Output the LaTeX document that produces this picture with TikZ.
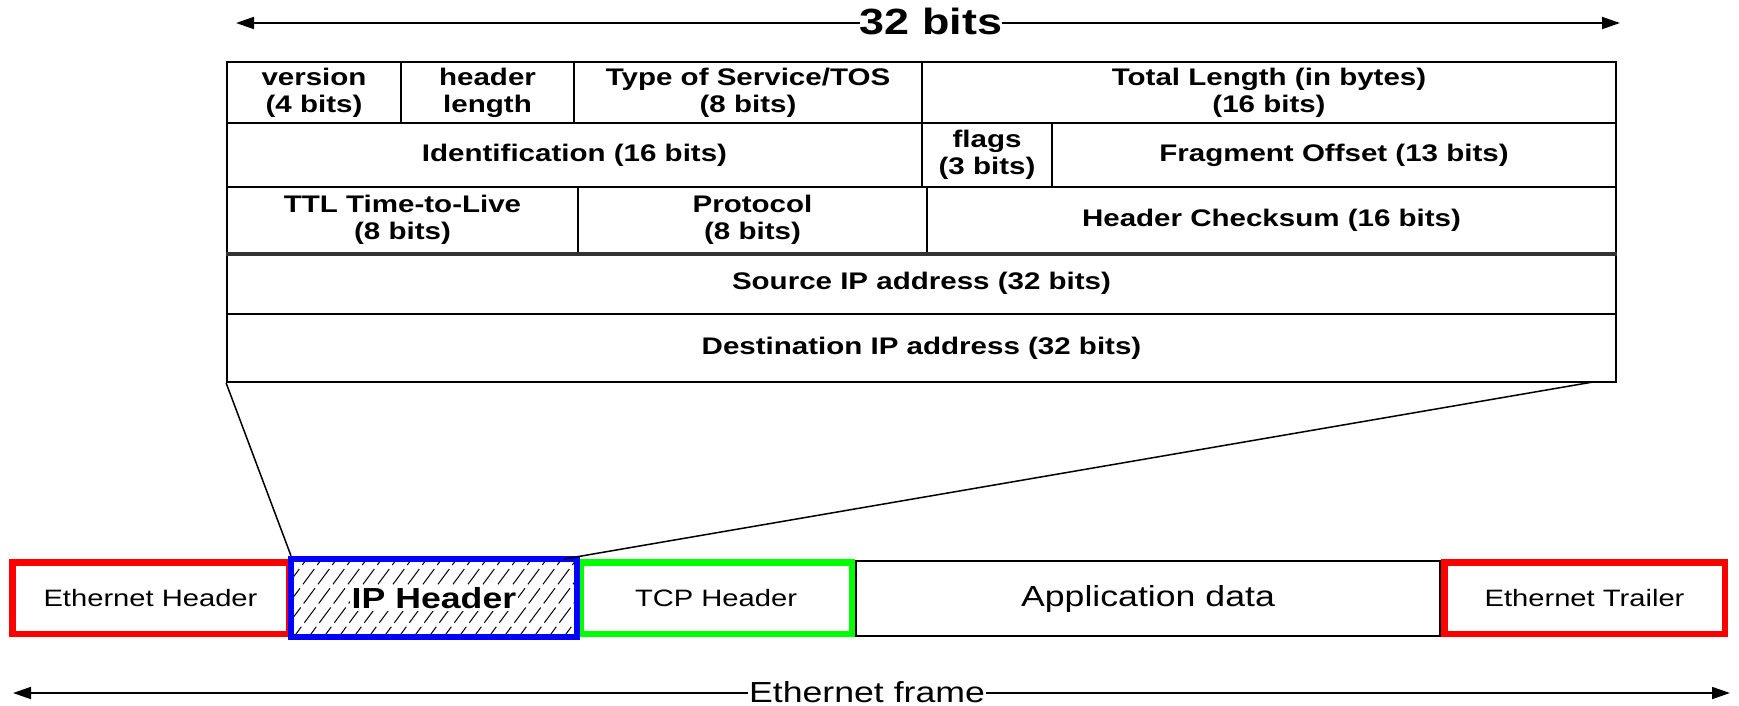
\documentclass[tikz,border=0pt]{standalone}
\usepackage{fontspec}
\setmainfont{Liberation Sans}[FakeStretch=1.23]
\usetikzlibrary{arrows.meta,calc}
\begin{document}
\begin{tikzpicture}[x=1pt,y=-1pt,
  cell/.style={draw=black, line width=1.8pt, inner sep=0pt, align=center,
    font=\bfseries\fontsize{24}{27}\selectfont},
  fbox/.style={line width=6.5pt, inner sep=0pt, minimum height=71.5pt,
    font=\fontsize{23.7}{26}\selectfont},
  link/.style={line width=1.5pt, draw=black},
  dim/.style={line width=1.8pt, draw=black, -{Triangle[length=18pt,width=12pt]}},
  hatch/.style={line width=1pt, draw=black, dash pattern=on 19pt off 5pt}
]
\useasboundingbox (0,0) rectangle (1739,706);

% ---- IP header table ----
\node[cell, minimum width=174pt, minimum height=61pt] (ver)  at (314,92.5)   {version\\(4 bits)};
\node[cell, minimum width=173pt, minimum height=61pt] (hlen) at (487.5,92.5) {header\\length};
\node[cell, minimum width=348pt, minimum height=61pt] (tos)  at (748,92.5)   {Type of Service/TOS\\(8 bits)};
\node[cell, minimum width=694pt, minimum height=61pt] (tlen) at (1269,92.5)  {Total Length (in bytes)\\(16 bits)};

\node[cell, minimum width=695pt, minimum height=64pt] (ident) at (574.5,155) {Identification (16 bits)};
\node[cell, minimum width=130pt, minimum height=64pt] (flags) at (987,155)   {flags\\(3 bits)};
\node[cell, minimum width=564pt, minimum height=64pt] (frag)  at (1334,155)  {Fragment Offset (13 bits)};

\node[cell, minimum width=351pt, minimum height=66pt] (ttl)   at (402.5,220)  {TTL Time-to-Live\\(8 bits)};
\node[cell, minimum width=349pt, minimum height=66pt] (proto) at (752.5,220)  {Protocol\\(8 bits)};
\node[cell, minimum width=689pt, minimum height=66pt] (chk)   at (1271.5,220) {Header Checksum (16 bits)};

\node[cell, minimum width=1389pt, minimum height=61pt] (src) at (921.5,283.5) {Source IP address (32 bits)};
\node[cell, minimum width=1389pt, minimum height=68pt] (dst) at (921.5,348)   {Destination IP address (32 bits)};

\draw[line width=3.2pt, draw=black!80] (ttl.south west) -- (chk.south east);

% ---- 32 bits dimension ----
\node[font=\bfseries\fontsize{36.5}{40}\selectfont, inner sep=0pt] (bits) at (931,21) {32 bits};
\coordinate (bL) at (236,23);
\coordinate (bR) at (1620,23);
\draw[dim] (bL -| bits.west) -- (bL);
\draw[dim] (bR -| bits.east) -- (bR);

% ---- Ethernet frame ----
\node[fbox, draw=black, line width=2pt, minimum width=584pt, minimum height=75pt,
      font=\fontsize{29}{32}\selectfont] (app) at (1148,598.5) {Application data};
\node[fbox, draw={rgb,255:red,255;green,0;blue,0}, minimum width=276.5pt] (eth) at (150.5,598) {Ethernet Header};
\node[fbox, draw={rgb,255:red,0;green,255;blue,0}, minimum width=271.5pt] (tcp) at (716,598) {TCP Header};
\node[fbox, draw={rgb,255:red,255;green,0;blue,0}, minimum width=280.5pt] (trl) at (1584.5,598) {Ethernet Trailer};

\node[fbox, minimum width=279.5pt] (iph) at (434,598) {};
\begin{scope}
  \clip (iph.south west) rectangle (iph.north east);
  \foreach \x in {200,215,...,590} {
    \draw[hatch] (\x,642) -- (\x+64,556);
  }
\end{scope}
\draw[line width=6.5pt, draw={rgb,255:red,0;green,0;blue,255}] (iph.south west) rectangle (iph.north east);
\node[fill=white, inner sep=2pt, font=\bfseries\fontsize{29}{32}\selectfont] (iptext) at (iph.center) {IP Header};

% ---- zoom lines ----
\coordinate (rtop) at (1593,382);
\coordinate (rbot) at (564,559);
\draw[link] (dst.south west) -- ([yshift=3.25pt]iph.north west);
\draw[link] (rtop) -- (rbot);

% ---- Ethernet frame dimension ----
\node[font=\fontsize{29}{32}\selectfont, inner sep=0.5pt] (frame) at (867,692) {Ethernet frame};
\coordinate (fL) at (13,693);
\coordinate (fR) at (1730,693);
\draw[dim] (fL -| frame.west) -- (fL);
\draw[dim] (fR -| frame.east) -- (fR);
\end{tikzpicture}
\end{document}
